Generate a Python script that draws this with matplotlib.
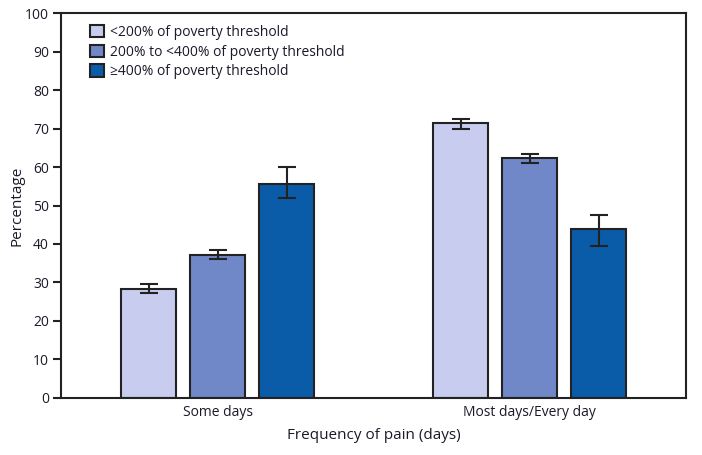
import matplotlib
matplotlib.use("Agg")
import matplotlib.pyplot as plt
import numpy as np

categories = ["Some days", "Most days/Every day"]
series = ["<200% of poverty threshold",
          "200% to <400% of poverty threshold",
          "≥400% of poverty threshold"]
values = [[28.2, 71.5],
          [37.2, 62.4],
          [55.7, 44.0]]
err_low = [[27.2, 69.9],
           [36.1, 61.1],
           [51.9, 39.5]]
err_high = [[29.5, 72.4],
            [38.5, 63.3],
            [59.9, 47.6]]
colors = ["#c8cdf0", "#7088c8", "#0b5ca8"]
yticks = list(range(0, 101, 10))

plt.rcParams['font.family'] = ['Open Sans', 'DejaVu Sans']
txt = "#1a1a2a"

fig = plt.figure(figsize=(7.02, 4.55), dpi=100)
ax = fig.add_axes([61.5/702, 1 - 397.7/455, (686-61.5)/702, (397.7-13.3)/455])

x = np.arange(len(categories))
width = 0.176
step = 0.221
for i, (s, c) in enumerate(zip(series, colors)):
    v = np.array(values[i])
    lo = v - np.array(err_low[i])
    hi = np.array(err_high[i]) - v
    ax.bar(x + (i - 1) * step, v, width, color=c, edgecolor="#222222",
           linewidth=1.5, label=s, zorder=2)
    ax.errorbar(x + (i - 1) * step, v, yerr=[lo, hi], fmt="none",
                ecolor="#222222", elinewidth=1.5, capsize=6.5, capthick=1.5, zorder=3)

ax.set_xlim(-0.5, 1.5)
ax.set_ylim(0, 100)
ax.set_yticks(yticks)
ax.set_xticks(x)
ax.set_xticklabels(categories, fontsize=10, color=txt)
ax.tick_params(axis="x", length=0, pad=5)
ax.tick_params(axis="y", length=6, width=1.5, color="#222222", labelsize=10,
               labelcolor=txt, pad=3)
for sp in ax.spines.values():
    sp.set_linewidth(1.5)
    sp.set_color("#222222")

ax.set_ylabel("Percentage", fontsize=11, color=txt, labelpad=0)
ax.set_xlabel("Frequency of pain (days)", fontsize=11, color=txt, labelpad=6)

leg = ax.legend(loc="upper left", bbox_to_anchor=(0.03, 0.995), frameon=False,
                fontsize=10, handlelength=1.0, handleheight=1.0,
                handletextpad=0.45, labelspacing=0.33, borderaxespad=0.3)
for t in leg.get_texts():
    t.set_color(txt)

fig.savefig("out.png", dpi=100)
